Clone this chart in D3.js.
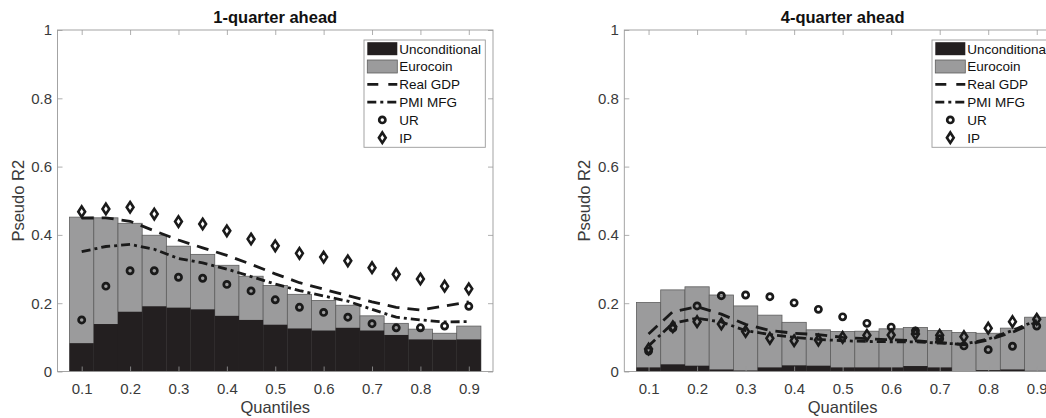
<!DOCTYPE html>
<html>
<head>
<meta charset="utf-8">
<script src="https://cdn.jsdelivr.net/npm/d3@7"></script>
<style>
  html, body { margin: 0; padding: 0; background: #fff; overflow: hidden; }
  svg { display: block; font-family: "Liberation Sans", Arial, Helvetica, sans-serif; }
</style>
</head>
<body>
<svg id="chart" width="1046" height="418"></svg>
<script>
// ---------------- data ----------------
const quantiles = [0.1, 0.15, 0.2, 0.25, 0.3, 0.35, 0.4, 0.45, 0.5, 0.55, 0.6, 0.65, 0.7, 0.75, 0.8, 0.85, 0.9];
const xTickValues = [0.1, 0.2, 0.3, 0.4, 0.5, 0.6, 0.7, 0.8, 0.9];
const yTickValues = [0, 0.2, 0.4, 0.6, 0.8, 1];
const panelTitles = ["1-quarter ahead", "4-quarter ahead"];
const seriesNames = ["Unconditional", "Eurocoin", "Real GDP", "PMI MFG", "UR", "IP"];

// 1-quarter ahead
const uncond1 = [0.083, 0.139, 0.175, 0.191, 0.187, 0.182, 0.163, 0.151, 0.137, 0.126, 0.120, 0.128, 0.120, 0.107, 0.094, 0.093, 0.094];
const euro1   = [0.452, 0.450, 0.434, 0.399, 0.367, 0.343, 0.311, 0.279, 0.252, 0.226, 0.208, 0.194, 0.163, 0.141, 0.124, 0.112, 0.133];
const gdp1    = [0.449, 0.450, 0.440, 0.412, 0.385, 0.362, 0.340, 0.314, 0.286, 0.260, 0.241, 0.222, 0.204, 0.188, 0.180, 0.192, 0.204];
const pmi1    = [0.351, 0.366, 0.372, 0.358, 0.331, 0.318, 0.300, 0.278, 0.256, 0.237, 0.221, 0.206, 0.182, 0.159, 0.151, 0.145, 0.146];
const ur1     = [0.151, 0.250, 0.295, 0.295, 0.276, 0.273, 0.255, 0.236, 0.210, 0.188, 0.173, 0.159, 0.140, 0.128, 0.128, 0.133, 0.191];
const ip1     = [0.468, 0.476, 0.481, 0.461, 0.439, 0.432, 0.412, 0.388, 0.368, 0.346, 0.335, 0.324, 0.304, 0.285, 0.271, 0.250, 0.242];

// 4-quarter ahead
const uncond4 = [0.012, 0.021, 0.017, 0.006, 0.003, 0.012, 0.018, 0.017, 0.012, 0.012, 0.012, 0.016, 0.012, 0.000, 0.004, 0.006, 0.002];
const euro4   = [0.202, 0.239, 0.248, 0.224, 0.192, 0.165, 0.144, 0.122, 0.117, 0.118, 0.125, 0.129, 0.120, 0.114, 0.112, 0.127, 0.159];
const gdp4    = [0.110, 0.175, 0.190, 0.168, 0.138, 0.120, 0.112, 0.108, 0.100, 0.096, 0.093, 0.090, 0.085, 0.078, 0.092, 0.115, 0.145];
const pmi4    = [0.075, 0.141, 0.156, 0.145, 0.120, 0.108, 0.100, 0.094, 0.090, 0.088, 0.087, 0.087, 0.083, 0.080, 0.095, 0.120, 0.150];
const ur4     = [0.060, 0.127, 0.192, 0.222, 0.224, 0.219, 0.201, 0.182, 0.160, 0.141, 0.130, 0.119, 0.096, 0.075, 0.064, 0.074, 0.133];
const ip4     = [0.066, 0.131, 0.146, 0.139, 0.117, 0.097, 0.090, 0.092, 0.100, 0.106, 0.107, 0.110, 0.106, 0.102, 0.127, 0.146, 0.153];

// ---------------- style ----------------
const C_BLACK = "#231f20";
const C_GRAY = "#9b9b9c";
const C_EDGE = "#5e5e5e";
const C_AXIS = "#9a9a9a";
const C_TEXT = "#3a3a3a";
const C_MARK = "#1a1a1a";
const DASH_GDP = "12,8";
const DASH_PMI = "9,4,3,4";
const LINE_W = 2.8;

const svg = d3.select("#chart");
const yTop = 30, yBottom = 371.5;

function diamondPath(cx, cy) {
  const w = 3.4, h = 5.2;
  return `M${cx},${cy - h}L${cx + w},${cy}L${cx},${cy + h}L${cx - w},${cy}Z`;
}

function drawPanel(opts) {
  const { x0, x1, title, uncond, euro, gdp, pmi, ur, ip } = opts;
  const x = d3.scaleLinear().domain([0.05, 0.95]).range([x0, x1]);
  const y = d3.scaleLinear().domain([0, 1]).range([yBottom, yTop]);
  const bw = x(0.05) - x(0);
  const g = svg.append("g");

  // bars: Eurocoin (gray) behind, Unconditional (black) in front
  g.selectAll("rect.euro").data(quantiles).join("rect")
    .attr("x", d => x(d) - bw / 2).attr("width", bw)
    .attr("y", (d, i) => y(euro[i])).attr("height", (d, i) => y(0) - y(euro[i]))
    .attr("fill", C_GRAY).attr("stroke", C_EDGE).attr("stroke-width", 0.8);
  g.selectAll("rect.unc").data(quantiles).join("rect")
    .attr("x", d => x(d) - bw / 2).attr("width", bw)
    .attr("y", (d, i) => y(uncond[i])).attr("height", (d, i) => y(0) - y(uncond[i]))
    .attr("fill", C_BLACK);

  // lines
  const line = d3.line().x(d => x(d[0])).y(d => y(d[1]));
  g.append("path").datum(quantiles.map((q, i) => [q, gdp[i]]))
    .attr("d", line).attr("fill", "none").attr("stroke", C_MARK)
    .attr("stroke-width", LINE_W).attr("stroke-dasharray", DASH_GDP);
  g.append("path").datum(quantiles.map((q, i) => [q, pmi[i]]))
    .attr("d", line).attr("fill", "none").attr("stroke", C_MARK)
    .attr("stroke-width", LINE_W).attr("stroke-dasharray", DASH_PMI);

  // markers
  g.selectAll("circle.ur").data(quantiles).join("circle")
    .attr("cx", d => x(d)).attr("cy", (d, i) => y(ur[i])).attr("r", 3.1)
    .attr("fill", "none").attr("stroke", C_MARK).attr("stroke-width", 2.7);
  g.selectAll("path.ip").data(quantiles).join("path")
    .attr("d", (d, i) => diamondPath(x(d), y(ip[i])))
    .attr("fill", "none").attr("stroke", C_MARK).attr("stroke-width", 2.6)
    .attr("stroke-linejoin", "miter");

  // axes (on top)
  const ax = svg.append("g").attr("color", C_AXIS);
  const xb = ax.append("g").attr("transform", `translate(0,${yBottom})`)
    .call(d3.axisBottom(x).tickValues(xTickValues).tickSizeInner(-5).tickSizeOuter(0).tickPadding(12)
      .tickFormat(d3.format(".1f")));
  const xt = ax.append("g").attr("transform", `translate(0,${yTop})`)
    .call(d3.axisTop(x).tickValues(xTickValues).tickSizeInner(-5).tickSizeOuter(0).tickFormat(""));
  const yl = ax.append("g").attr("transform", `translate(${x0},0)`)
    .call(d3.axisLeft(y).tickValues(yTickValues).tickSizeInner(-5).tickSizeOuter(0).tickPadding(5.5)
      .tickFormat(d => d === 0 ? "0" : d === 1 ? "1" : d3.format(".1f")(d)));
  const yr = ax.append("g").attr("transform", `translate(${x1},0)`)
    .call(d3.axisRight(y).tickValues(yTickValues).tickSizeInner(-5).tickSizeOuter(0).tickFormat(""));
  [xb, xt, yl, yr].forEach(a => a.select(".domain").remove());
  ax.selectAll(".tick line").attr("stroke-width", 0.8);
  ax.selectAll(".tick text").attr("fill", C_TEXT).style("font-size", "15px")
    .style("font-family", "'Liberation Sans', Arial, sans-serif");
  ax.append("rect").attr("x", x0).attr("y", yTop).attr("width", x1 - x0).attr("height", yBottom - yTop)
    .attr("fill", "none").attr("stroke", C_AXIS).attr("stroke-width", 0.9);

  // labels
  const cx = (x0 + x1) / 2;
  svg.append("text").attr("x", cx).attr("y", 23).attr("text-anchor", "middle")
    .attr("font-weight", "bold").attr("font-size", 16.5).attr("fill", "#111").text(title);
  svg.append("text").attr("x", cx).attr("y", 413).attr("text-anchor", "middle")
    .attr("font-size", 16.5).attr("fill", C_TEXT).text("Quantiles");
  svg.append("text").attr("transform", `translate(${x0 - 34},${(yTop + yBottom) / 2}) rotate(-90)`)
    .attr("text-anchor", "middle").attr("font-size", 16.5).attr("fill", C_TEXT).text("Pseudo R2");

  // legend
  const lx = x1 - 129, ly = 40, lw = 121.3, lh = 107.3, rowH = 17.8, r0 = 8.7;
  const lg = svg.append("g").attr("transform", `translate(${lx},${ly})`);
  lg.append("rect").attr("width", lw).attr("height", lh).attr("fill", "#fff")
    .attr("stroke", C_AXIS).attr("stroke-width", 0.9);
  seriesNames.forEach((name, i) => {
    const cy = r0 + i * rowH;
    if (i === 0) {
      lg.append("rect").attr("x", 3.3).attr("y", cy - 6.5).attr("width", 30).attr("height", 13).attr("fill", C_BLACK);
    } else if (i === 1) {
      lg.append("rect").attr("x", 3.3).attr("y", cy - 6.5).attr("width", 30).attr("height", 13)
        .attr("fill", C_GRAY).attr("stroke", C_EDGE).attr("stroke-width", 0.8);
    } else if (i === 2 || i === 3) {
      lg.append("line").attr("x1", 3.3).attr("x2", 33.3).attr("y1", cy).attr("y2", cy)
        .attr("stroke", C_MARK).attr("stroke-width", LINE_W)
        .attr("stroke-dasharray", i === 2 ? "11,10" : DASH_PMI);
    } else if (i === 4) {
      lg.append("circle").attr("cx", 18.3).attr("cy", cy).attr("r", 3.1)
        .attr("fill", "none").attr("stroke", C_MARK).attr("stroke-width", 2.7);
    } else {
      lg.append("path").attr("d", diamondPath(18.3, cy))
        .attr("fill", "none").attr("stroke", C_MARK).attr("stroke-width", 2.6);
    }
    lg.append("text").attr("x", 35.3).attr("y", cy).attr("dy", "0.36em")
      .attr("font-size", 13.5).attr("fill", "#111").text(name);
  });
}

drawPanel({ x0: 57.5, x1: 493, title: panelTitles[0], uncond: uncond1, euro: euro1, gdp: gdp1, pmi: pmi1, ur: ur1, ip: ip1 });
drawPanel({ x0: 624.3, x1: 1061, title: panelTitles[1], uncond: uncond4, euro: euro4, gdp: gdp4, pmi: pmi4, ur: ur4, ip: ip4 });
</script>
</body>
</html>
